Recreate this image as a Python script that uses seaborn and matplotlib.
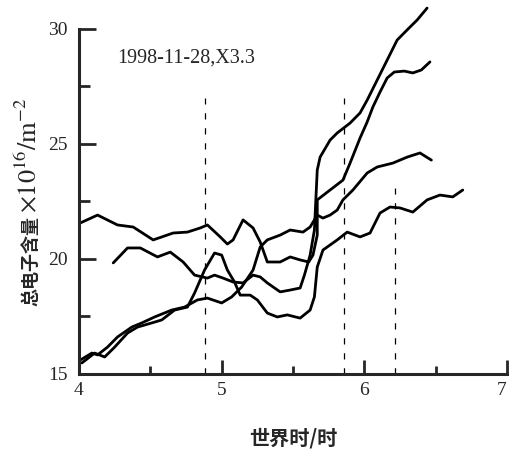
import matplotlib
matplotlib.use("Agg")
import matplotlib.pyplot as plt
import seaborn as sns
import pandas as pd
from matplotlib.ticker import FixedLocator

# ---- data ----
a_x = [4.01,4.13,4.27,4.38,4.52,4.66,4.76,4.85,4.90,4.99,5.04,5.08,5.15,5.22,5.27,5.32,5.41,5.48,5.55,5.61,
       5.64,5.67,5.67,5.76,5.85,5.90,5.97,6.02,6.06,6.11,6.16,6.21,6.28,6.34,6.40,6.46]
a_y = [21.57,21.91,21.48,21.39,20.83,21.13,21.17,21.35,21.48,20.96,20.65,20.83,21.70,21.35,20.74,19.87,19.87,20.09,19.96,19.87,
       20.17,21.04,22.57,23.0,23.43,24.17,25.26,25.96,26.61,27.26,27.87,28.13,28.17,28.09,28.22,28.57]

b_x = [4.24,4.34,4.43,4.55,4.64,4.73,4.81,4.90,4.95,5.01,5.08,5.15,5.22,5.27,5.32,5.41,5.48,5.55,5.58,5.62,
       5.65,5.66,5.67,5.69,5.76,5.81,5.90,5.97,6.02,6.09,6.16,6.23,6.30,6.37,6.44]
b_y = [19.83,20.48,20.48,20.09,20.30,19.87,19.30,19.17,19.30,19.17,19.0,18.96,19.30,19.22,18.96,18.57,18.65,18.74,19.30,20.17,
       21.26,22.57,23.87,24.43,25.17,25.48,25.91,26.35,26.91,27.78,28.65,29.52,29.96,30.39,30.91]

c_x = [4.01,4.09,4.13,4.20,4.27,4.37,4.44,4.53,4.65,4.74,4.83,4.90,5.00,5.07,5.14,5.22,5.27,5.32,5.41,5.48,
       5.57,5.62,5.67,5.71,5.76,5.81,5.85,5.92,6.02,6.09,6.20,6.30,6.39,6.47]
c_y = [15.61,15.91,15.83,16.17,16.61,17.04,17.22,17.48,17.78,17.91,18.22,18.30,18.09,18.35,18.78,19.52,20.52,20.83,21.04,21.26,
       21.17,21.39,21.91,21.78,21.91,22.13,22.57,23.0,23.74,24.0,24.17,24.43,24.61,24.30]

d_x = [4.02,4.11,4.18,4.25,4.34,4.41,4.51,4.58,4.67,4.76,4.81,4.88,4.95,5.00,5.04,5.09,5.13,5.20,5.25,5.32,
       5.39,5.46,5.55,5.62,5.65,5.67,5.71,5.81,5.88,5.97,6.04,6.11,6.18,6.25,6.34,6.44,6.53,6.62,6.69]
d_y = [15.48,15.91,15.74,16.17,16.78,17.04,17.22,17.35,17.78,17.91,18.52,19.52,20.26,20.17,19.52,19.0,18.43,18.43,18.22,17.65,
       17.48,17.57,17.43,17.78,18.35,19.65,20.39,20.83,21.17,20.96,21.13,22.0,22.26,22.22,22.04,22.57,22.78,22.70,23.0]

event_x = [4.88, 5.86, 6.215]
event_top = [27.0, 27.0, 23.1]

x_major = [4, 5, 6, 7]
x_minor = [4.5, 5.5, 6.5]
y_major = [15, 20, 25, 30]
y_minor = [17.5, 22.5, 27.5]

annotation = "1998-11-28,X3.3"
xlabel = "世界时/时"
ylabel_cn = "总电子含量"
ylabel_unit = r"$\times10^{16}/\mathrm{m}^{-2}$"

# ---- build table ----
frames = []
for name, xs, ys in [("A", a_x, a_y), ("B", b_x, b_y), ("C", c_x, c_y), ("D", d_x, d_y)]:
    frames.append(pd.DataFrame({"series": name, "t": xs, "tec": ys}))
df = pd.concat(frames, ignore_index=True)

sns.set_style("ticks")
plt.rcParams["font.family"] = ["Liberation Serif", "DejaVu Serif"]
plt.rcParams["mathtext.fontset"] = "stix"

fig = plt.figure(figsize=(5.10, 4.51), dpi=100)
ax = fig.add_axes([79/510, 77/451, 428/510, 372.6/451])

sns.lineplot(data=df, x="t", y="tec", units="series", estimator=None, sort=False,
             color="black", linewidth=2.0, ax=ax, legend=False,
             solid_joinstyle="round", solid_capstyle="round")

ax.vlines(event_x, 15, event_top, colors="black", linewidth=0.9,
          linestyles=[(0, (5, 7))])

ax.set_xlim(4, 7)
ax.set_ylim(15, 31.2)
sns.despine(ax=ax)
ax.spines["left"].set_bounds(15, 30)
ax.spines["left"].set_linewidth(2.2)
ax.spines["bottom"].set_linewidth(2.2)

ax.xaxis.set_major_locator(FixedLocator(x_major))
ax.xaxis.set_minor_locator(FixedLocator(x_minor))
ax.yaxis.set_major_locator(FixedLocator(y_major))
ax.yaxis.set_minor_locator(FixedLocator(y_minor))
ax.set_xticklabels([str(v) for v in x_major])
ax.set_yticklabels([str(v) for v in y_major])

ax.tick_params(axis="x", which="major", direction="in", length=10, width=2, labelsize=14, pad=6)
ax.tick_params(axis="x", which="minor", direction="in", length=6, width=2)
ax.tick_params(axis="y", which="major", direction="in", length=12, width=2, labelsize=14, pad=8)
ax.tick_params(axis="y", which="minor", direction="in", length=8, width=2)
ax.get_xticklabels()[-1].set_horizontalalignment("right")

ax.text(4.27, 28.75, annotation, fontsize=14.5, va="center", ha="left",
        family=["Liberation Serif"])

ax.set_xlabel(xlabel, fontsize=14.5, fontweight="bold",
              family=["Noto Sans CJK SC", "DejaVu Sans"], labelpad=20)
ax.set_ylabel("")

fig.text(31/510, 1 - 216/451, ylabel_cn, rotation=90, ha="center", va="top",
         fontsize=13, fontweight="bold", family=["Noto Sans CJK SC", "DejaVu Sans"])
fig.text(28/510, 1 - 213/451, ylabel_unit, rotation=90, ha="center", va="bottom",
         fontsize=19)

fig.savefig("out.png", dpi=100)
